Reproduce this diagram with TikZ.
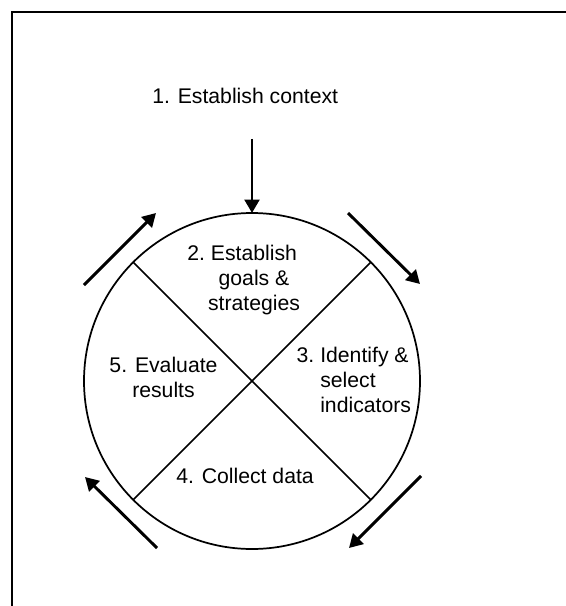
\documentclass[tikz,border=0pt]{standalone}
\usepackage{fontspec}
\setmainfont{Liberation Sans}
\usetikzlibrary{arrows.meta}

\begin{document}
\begin{tikzpicture}[x=0.75pt,y=-0.75pt,
    lbl/.style={inner sep=0pt,font=\fontsize{15.9}{18.75}\selectfont},
    arr/.style={line width=2.2pt,-{Triangle[length=10pt,width=11pt]}},
    thin line/.style={line width=1.3pt}]
    \useasboundingbox (0,0) rectangle (566,606);
    \draw[thin line] (566,12) -- (12,12) -- (12,606);
    \node[circle,draw,thin line,minimum size=252pt,inner sep=0pt,outer sep=0pt] (cyc) at (252,381) {};
    \draw[thin line] (cyc.north west) -- (cyc.south east);
    \draw[thin line] (cyc.north east) -- (cyc.south west);
    \node[lbl,anchor=base west] (ctx) at (152,104) {1. Establish context};
    % base of a multi-line node is its last line
    \node[lbl,anchor=base,align=center] (goals) at (254,310) {\llap{2.~}Establish\\goals \&\\strategies};
    \node[lbl,anchor=base west,align=left] (ind) at (320,412) {\llap{3.~}Identify \&\\select\\indicators};
    \node[lbl,anchor=base west] (data) at (176,483) {4. Collect data};
    \node[lbl,anchor=base,align=center] (eval) at (163.5,397) {5. Evaluate\\results};
    % arrows round the cycle
    \coordinate (ctxarr) at (252,139);
    \draw[arr] (ctxarr) -- (cyc.north);
    \coordinate (ul1) at (84,285);  \coordinate (ul2) at (156,213);
    \coordinate (ur1) at (348,213); \coordinate (ur2) at (420,284);
    \coordinate (lr1) at (421,476); \coordinate (lr2) at (349,548);
    \coordinate (ll1) at (157,548); \coordinate (ll2) at (85,477);
    \draw[arr] (ul1) -- (ul2);
    \draw[arr] (ur1) -- (ur2);
    \draw[arr] (lr1) -- (lr2);
    \draw[arr] (ll1) -- (ll2);
\end{tikzpicture}
\end{document}
